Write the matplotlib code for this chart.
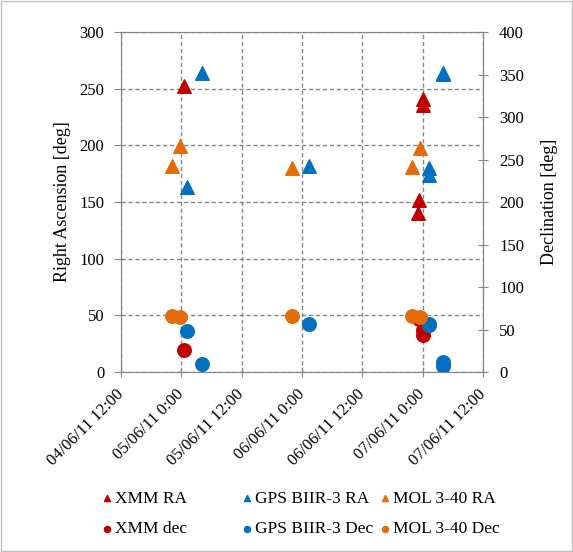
import datetime as dt
import matplotlib
matplotlib.use('Agg')
import matplotlib.pyplot as plt
import matplotlib.dates as mdates
from matplotlib.ticker import FuncFormatter, MultipleLocator

plt.rcParams['font.family'] = ['Liberation Serif', 'DejaVu Serif']

t0 = dt.datetime(2011, 6, 4, 12, 0)

def hrs(h):
    return t0 + dt.timedelta(hours=h)

# hours after 04/06/11 12:00
xmm_t = [12.6, 59.0, 59.3, 60.1, 60.1]
xmm_ra = [252, 140, 152, 236, 241]
xmm_dec = [26, 63, 62, 49, 43]

gps_t = [13.1, 16.1, 37.4, 61.3, 61.3, 64.1, 64.1]
gps_ra = [163, 264, 182, 180, 174, 264, 263]
gps_dec = [48, 9, 56.5, 56.5, 55, 12, 7]

mol_t = [10.1, 11.7, 34.0, 57.9, 59.5]
mol_ra = [182, 199.5, 180, 181, 197.5]
mol_dec = [66, 65, 66, 66, 65]

red = '#C00000'
blue = '#0070C0'
orange = '#E36C09'

fig = plt.figure(figsize=(5.73, 5.52), dpi=100)
fig.patches.append(plt.Rectangle((0.002, 0.002), 0.996, 0.996, transform=fig.transFigure,
                                 fill=False, edgecolor='#BFBFBF', lw=1))
ax = fig.add_axes([0.211, 0.326, 0.632, 0.616])
ax2 = ax.twinx()

ms = 95
h1 = ax.scatter([hrs(h) for h in xmm_t], xmm_ra, marker='^', s=ms, color=red, label='XMM RA')
h2 = ax.scatter([hrs(h) for h in gps_t], gps_ra, marker='^', s=ms, color=blue, label='GPS BIIR-3 RA')
h3 = ax.scatter([hrs(h) for h in mol_t], mol_ra, marker='^', s=ms, color=orange, label='MOL 3-40 RA')
h4 = ax2.scatter([hrs(h) for h in xmm_t], xmm_dec, marker='o', s=ms, color=red, label='XMM dec')
h5 = ax2.scatter([hrs(h) for h in gps_t], gps_dec, marker='o', s=ms, color=blue, label='GPS BIIR-3 Dec')
h6 = ax2.scatter([hrs(h) for h in mol_t], mol_dec, marker='o', s=ms, color=orange, label='MOL 3-40 Dec')

ax.set_xlim(hrs(0), hrs(72))
ax.set_ylim(0, 300)
ax2.set_ylim(0, 400)
ax.yaxis.set_major_locator(MultipleLocator(50))
ax2.yaxis.set_major_locator(MultipleLocator(50))
ax.set_xticks([hrs(h) for h in range(0, 73, 12)])
ax.xaxis.set_major_formatter(FuncFormatter(
    lambda v, p: '{:%d/%m/%y} {}:{:%M}'.format(mdates.num2date(v), mdates.num2date(v).hour, mdates.num2date(v))))
for lab in ax.get_xticklabels():
    lab.set_rotation(45)
    lab.set_ha('right')
    lab.set_va('center')
    lab.set_rotation_mode('anchor')

ax.grid(True, color='#868686', linestyle='--', lw=1, dashes=(3, 2))
ax.set_axisbelow(True)
for a in (ax, ax2):
    for s in a.spines.values():
        s.set_color('#868686')
    a.tick_params(colors='#868686', labelcolor='black', labelsize=12)
ax.tick_params(axis='y', length=5, pad=7)
ax2.tick_params(axis='y', direction='inout', length=7, pad=8)
ax.tick_params(axis='x', direction='inout', length=7, pad=11)

ax.set_ylabel('Right Ascension [deg]', fontsize=13, labelpad=6)
ax2.set_ylabel('Declination [deg]', fontsize=13, labelpad=12)

# three legend columns, placed like the spreadsheet legend
cols = [([h1, h4], 93), ([h2, h5], 233), ([h3, h6], 371)]
for hs, xpix in cols:
    fig.legend(handles=hs, loc='center left', bbox_to_anchor=(xpix / 573, 0.069),
               frameon=False, fontsize=12.5, markerscale=0.45, borderpad=0,
               handlelength=0.6, handletextpad=0.15, labelspacing=0.85)

fig.savefig('out.png', dpi=100)
